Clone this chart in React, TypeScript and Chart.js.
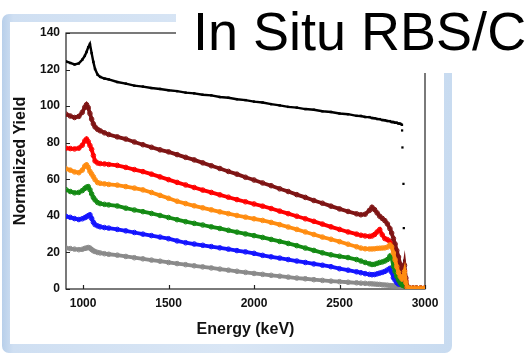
import { useEffect, useRef } from "react";
import { Chart, registerables } from "chart.js";

Chart.register(...registerables);

// Energy channels (keV) shared by all series
const energy = [
  900, 925, 950, 975, 995, 1010, 1020, 1030, 1040, 1050, 1060, 1070, 1085, 1100, 1125, 1150,
  1200, 1250, 1300, 1350, 1400, 1450, 1500, 1550, 1600, 1650, 1700, 1750, 1800, 1850, 1900, 1950,
  2000, 2050, 2100, 2150, 2200, 2250, 2300, 2350, 2400, 2450, 2500, 2550, 2600,
  2625, 2650, 2675, 2690, 2705, 2720, 2735, 2750, 2765, 2780, 2795, 2805, 2815, 2825, 2835, 2845,
  2855, 2865, 2872, 2880, 2888, 2896, 2910, 2930, 2950, 2975, 3000,
];

const blackYield = [
  124.5, 123.6, 122.8, 123.4, 125.4, 127.5, 129.6, 132.2, 134.0, 129.0, 124.2, 120.3, 117.2, 116.0, 115.1, 114.6,
  113.2, 112.3, 111.2, 110.7, 109.9, 109.4, 108.7, 108.2, 107.4, 107.0, 106.2, 105.9, 105.0, 104.6, 103.8, 103.3,
  102.5, 102.0, 101.1, 100.4, 99.6, 99.2, 98.4, 98.0, 97.2, 96.8, 96.0, 95.6, 94.7,
  94.6, 94.1, 94.0, 93.5, 93.4, 93.0, 92.9, 92.4, 92.3, 91.9, 91.8, 91.3, 91.3, 90.9, 90.9, 90.5,
  90.4, 89.8, null, null, null, null, null, null, null, null, null,
];
const blackTailEnergy = [2866, 2868, 2874, 2876, 2878];
const blackTailYield = [86.7, 77.4, 57.5, 33.3, 15.5];

const maroonYield = [
  95.6, 94.6, 93.8, 94.4, 96.6, 99.4, 100.8, 99.2, 96.0, 92.9, 90.3, 88.6, 87.3, 86.5, 85.4, 84.5,
  83.2, 82.0, 80.4, 78.9, 77.5, 76.1, 75.0, 73.5, 72.0, 70.6, 69.0, 67.4, 65.9, 64.3, 62.8, 61.1,
  59.6, 58.0, 56.5, 54.8, 53.3, 51.6, 50.1, 48.4, 46.9, 45.3, 43.8, 42.4, 41.1,
  40.6, 40.9, 43.0, 44.7, 43.4, 41.6, 39.8, 38.6, 37.4, 35.6, 33.0, 30.6, 27.6, 24.6, 21.0, 17.5,
  13.6, 10.0, 7.8, 13.0, 6.0, 1.5, 0.5, 0.5, 0.5, 0.5, 0.5,
];
const redYield = [
  77.0, 76.8, 76.6, 77.0, 78.6, 81.0, 82.0, 80.6, 78.5, 76.4, 73.0, 70.0, 68.9, 68.6, 68.4, 68.1,
  67.6, 66.5, 65.3, 64.2, 62.8, 61.3, 59.8, 58.3, 56.9, 55.5, 54.1, 52.8, 51.5, 50.2, 48.9, 47.7,
  46.5, 45.3, 44.0, 42.6, 41.2, 39.8, 38.4, 37.0, 35.5, 34.0, 32.6, 31.2, 30.0,
  29.4, 29.0, 28.8, 29.0, 29.8, 31.2, 32.5, 29.6, 27.6, 27.0, 26.0, 24.5, 22.5, 20.0, 16.6, 13.5,
  10.0, 7.0, 6.0, 10.0, 4.5, 1.0, 0.5, 0.5, 0.5, 0.5, 0.5,
];
const orangeYield = [
  65.7, 65.0, 64.0, 63.6, 65.0, 67.2, 67.9, 66.5, 64.3, 62.9, 61.4, 59.8, 58.2, 57.8, 57.5, 57.2,
  56.8, 56.0, 55.2, 54.2, 52.8, 51.2, 49.6, 48.0, 46.7, 45.5, 44.4, 43.3, 42.2, 41.2, 40.2, 39.3,
  38.4, 37.5, 36.4, 35.2, 33.9, 32.6, 31.2, 29.8, 28.4, 27.2, 25.9, 24.5, 23.1,
  22.4, 22.0, 21.9, 21.9, 22.0, 22.2, 22.3, 22.4, 22.5, 22.9, 24.1, 23.0, 19.7, 16.0, 12.2, 9.0,
  6.8, 5.5, 6.5, 9.5, 3.5, 1.0, 0.5, 0.5, 0.5, 0.5, 0.5,
];
const greenYield = [
  54.3, 53.3, 52.6, 52.8, 53.8, 55.0, 55.7, 56.0, 54.3, 52.0, 50.0, 48.7, 47.3, 46.7, 46.3, 46.0,
  45.4, 44.2, 43.2, 42.3, 41.3, 40.2, 39.1, 37.9, 36.8, 35.9, 35.0, 34.0, 33.1, 32.1, 31.1, 30.1,
  29.2, 28.2, 27.1, 26.0, 24.9, 23.7, 22.4, 21.1, 19.8, 18.7, 17.9, 17.2, 16.1,
  15.3, 14.5, 13.8, 13.4, 13.5, 14.0, 14.5, 14.8, 15.3, 16.1, 18.0, 17.0, 12.4, 9.6, 6.9, 4.9,
  3.4, 2.3, 1.9, 2.6, 1.0, 0.5, 0.4, 0.4, 0.4, 0.4, 0.4,
];
const blueYield = [
  39.7, 39.2, 38.5, 38.0, 38.4, 39.0, 39.5, 40.1, 40.6, 38.6, 36.5, 35.2, 34.5, 34.0, 33.6, 33.3,
  32.6, 31.8, 30.9, 30.0, 29.2, 28.4, 27.5, 26.3, 25.3, 24.6, 23.9, 23.2, 22.5, 21.8, 21.0, 20.3,
  19.5, 18.4, 17.6, 16.9, 16.1, 15.3, 14.5, 13.7, 13.0, 12.2, 11.1, 10.3, 9.4,
  8.9, 8.4, 8.0, 7.8, 7.9, 8.3, 8.7, 9.1, 9.6, 10.4, 11.3, 9.2, 6.2, 4.8, 3.5, 2.7,
  2.6, 3.5, 4.5, 3.5, 1.5, 0.5, 0.3, 0.3, 0.3, 0.3, 0.3,
];
const grayYield = [
  22.4, 22.1, 21.8, 21.5, 21.7, 22.2, 22.4, 22.7, 22.4, 21.6, 20.9, 20.5, 20.0, 19.7, 19.3, 19.0,
  18.5, 17.8, 17.1, 16.5, 15.8, 15.2, 14.5, 13.9, 13.3, 12.7, 12.1, 11.5, 10.9, 10.3, 9.7, 9.1,
  8.5, 8.0, 7.5, 7.0, 6.5, 6.0, 5.6, 5.1, 4.7, 4.3, 4.0, 3.7, 3.4,
  3.2, 3.1, 2.9, 2.8, 2.7, 2.6, 2.5, 2.3, 2.2, 2.1, 1.9, 1.8, 1.7, 1.6, 1.5, 1.3,
  1.1, 0.9, 0.7, 0.6, 0.5, 0.4, 0.3, 0.3, 0.3, 0.3, 0.3,
];

const xTicks = [1000, 1500, 2000, 2500, 3000];
const yTicks = [0, 20, 40, 60, 80, 100, 120, 140];

const FONT = "'Liberation Sans', Arial, Helvetica, sans-serif";

const pts = (xs: number[], ys: (number | null)[]) => xs.map((x, i) => ({ x, y: ys[i] }));

const framePlugin = {
  id: "frameTicks",
  beforeDatasetsDraw(chart: any) {
    const { ctx, chartArea, scales } = chart;
    const { left, right, top, bottom } = chartArea;
    ctx.save();
    ctx.strokeStyle = "#222";
    ctx.lineWidth = 1.2;
    ctx.strokeRect(left, top, right - left, bottom - top);
    ctx.beginPath();
    xTicks.forEach((v) => {
      const px = Math.round(scales.x.getPixelForValue(v)) + 0.5;
      ctx.moveTo(px, bottom);
      ctx.lineTo(px, bottom - 4);
    });
    yTicks.forEach((v) => {
      const py = Math.round(scales.y.getPixelForValue(v)) + 0.5;
      ctx.moveTo(left, py);
      ctx.lineTo(left + 4, py);
    });
    ctx.stroke();
    ctx.restore();
  },
};

const series = (label: string, color: string, ys: number[]) => ({
  label,
  data: pts(energy, ys),
  borderColor: color,
  backgroundColor: "rgba(0,0,0,0)",
  borderWidth: 3.8,
  pointStyle: "circle",
  pointRadius: 2.3,
  pointBorderWidth: 1,
  pointBorderColor: color,
  pointBackgroundColor: "rgba(0,0,0,0)",
  tension: 0,
  fill: false,
});

export default function App() {
  const ref = useRef<HTMLCanvasElement>(null);

  useEffect(() => {
    if (!ref.current) return;
    const chart = new Chart(ref.current, {
      type: "line",
      data: {
        datasets: [
          series("Orange", "#ff8c10", orangeYield),
          series("Maroon", "#7e1414", maroonYield),
          series("Red", "#ff0000", redYield),
          series("Green", "#138a13", greenYield),
          series("Blue", "#1414ff", blueYield),
          series("Gray", "#8a8a8a", grayYield),
          {
            label: "Random",
            data: pts(energy, blackYield),
            borderColor: "#000",
            backgroundColor: "#000",
            borderWidth: 2.4,
            pointStyle: "rect",
            pointRadius: 1.7,
            pointBorderWidth: 0,
            pointBackgroundColor: "#000",
            tension: 0,
            fill: false,
            spanGaps: false,
          },
          {
            label: "Random tail",
            data: pts(blackTailEnergy, blackTailYield),
            showLine: false,
            pointStyle: "rect",
            pointRadius: 1.6,
            pointBorderWidth: 0,
            pointBackgroundColor: "#000",
            borderColor: "#000",
          },
        ] as any,
      },
      options: {
        animation: false,
        responsive: false,
        events: [],
        layout: { padding: { left: 7, right: 103, top: 33, bottom: 10 } },
        plugins: {
          legend: { display: false },
          tooltip: { enabled: false },
        },
        scales: {
          x: {
            type: "linear",
            min: 900,
            max: 3000,
            afterBuildTicks: (s: any) => {
              s.ticks = xTicks.map((v) => ({ value: v }));
            },
            afterFit: (s: any) => {
              s.height = 54;
            },
            grid: { display: false, drawTicks: false },
            border: { display: false },
            ticks: {
              color: "#111",
              padding: 7,
              maxRotation: 0,
              autoSkip: false,
              callback: (v: any) => String(v),
              font: { family: FONT, size: 12, weight: "bold" },
            },
            title: {
              display: true,
              text: "Energy (keV)",
              color: "#111",
              padding: { top: 4, bottom: 4 },
              font: { family: FONT, size: 16, weight: "bold" },
            },
          },
          y: {
            type: "linear",
            min: 0,
            max: 140,
            afterBuildTicks: (s: any) => {
              s.ticks = yTicks.map((v) => ({ value: v }));
            },
            afterFit: (s: any) => {
              s.width = 59;
            },
            grid: { display: false, drawTicks: false },
            border: { display: false },
            ticks: {
              color: "#111",
              padding: 6,
              autoSkip: false,
              callback: (v: any) => String(v),
              font: { family: FONT, size: 12, weight: "bold" },
            },
            title: {
              display: true,
              text: "Normalized Yield",
              color: "#111",
              padding: { top: 4, bottom: 4 },
              font: { family: FONT, size: 16, weight: "bold" },
            },
          },
        },
      } as any,
      plugins: [framePlugin],
    });
    return () => chart.destroy();
  }, []);

  return (
    <div
      style={{
        position: "absolute",
        left: 0,
        top: 0,
        width: 528,
        height: 353,
        overflow: "hidden",
        background: "#fff",
      }}
    >
      <div
        style={{
          position: "absolute",
          left: 2,
          top: 14,
          width: 450,
          height: 339,
          borderRadius: 7,
          background: "linear-gradient(90deg, #b8cfea 0%, #cfdff2 2.5%, #d9e6f5 50%, #c8dbf0 100%)",
        }}
      />
      <div
        style={{
          position: "absolute",
          left: 10,
          top: 22,
          width: 434,
          height: 322,
          background: "#fff",
        }}
      />
      <canvas
        ref={ref}
        width={528}
        height={353}
        style={{ position: "absolute", left: 0, top: 0, width: 528, height: 353, display: "block" }}
      />
      <div
        style={{
          position: "absolute",
          left: 176,
          top: 0,
          width: 352,
          height: 73,
          background: "#fff",
        }}
      />
      <div
        style={{
          position: "absolute",
          left: 193,
          top: 3.6,
          fontFamily: FONT,
          fontSize: 54,
          lineHeight: "54px",
          color: "#000",
          whiteSpace: "nowrap",
        }}
      >
        In Situ RBS/C
      </div>
    </div>
  );
}
